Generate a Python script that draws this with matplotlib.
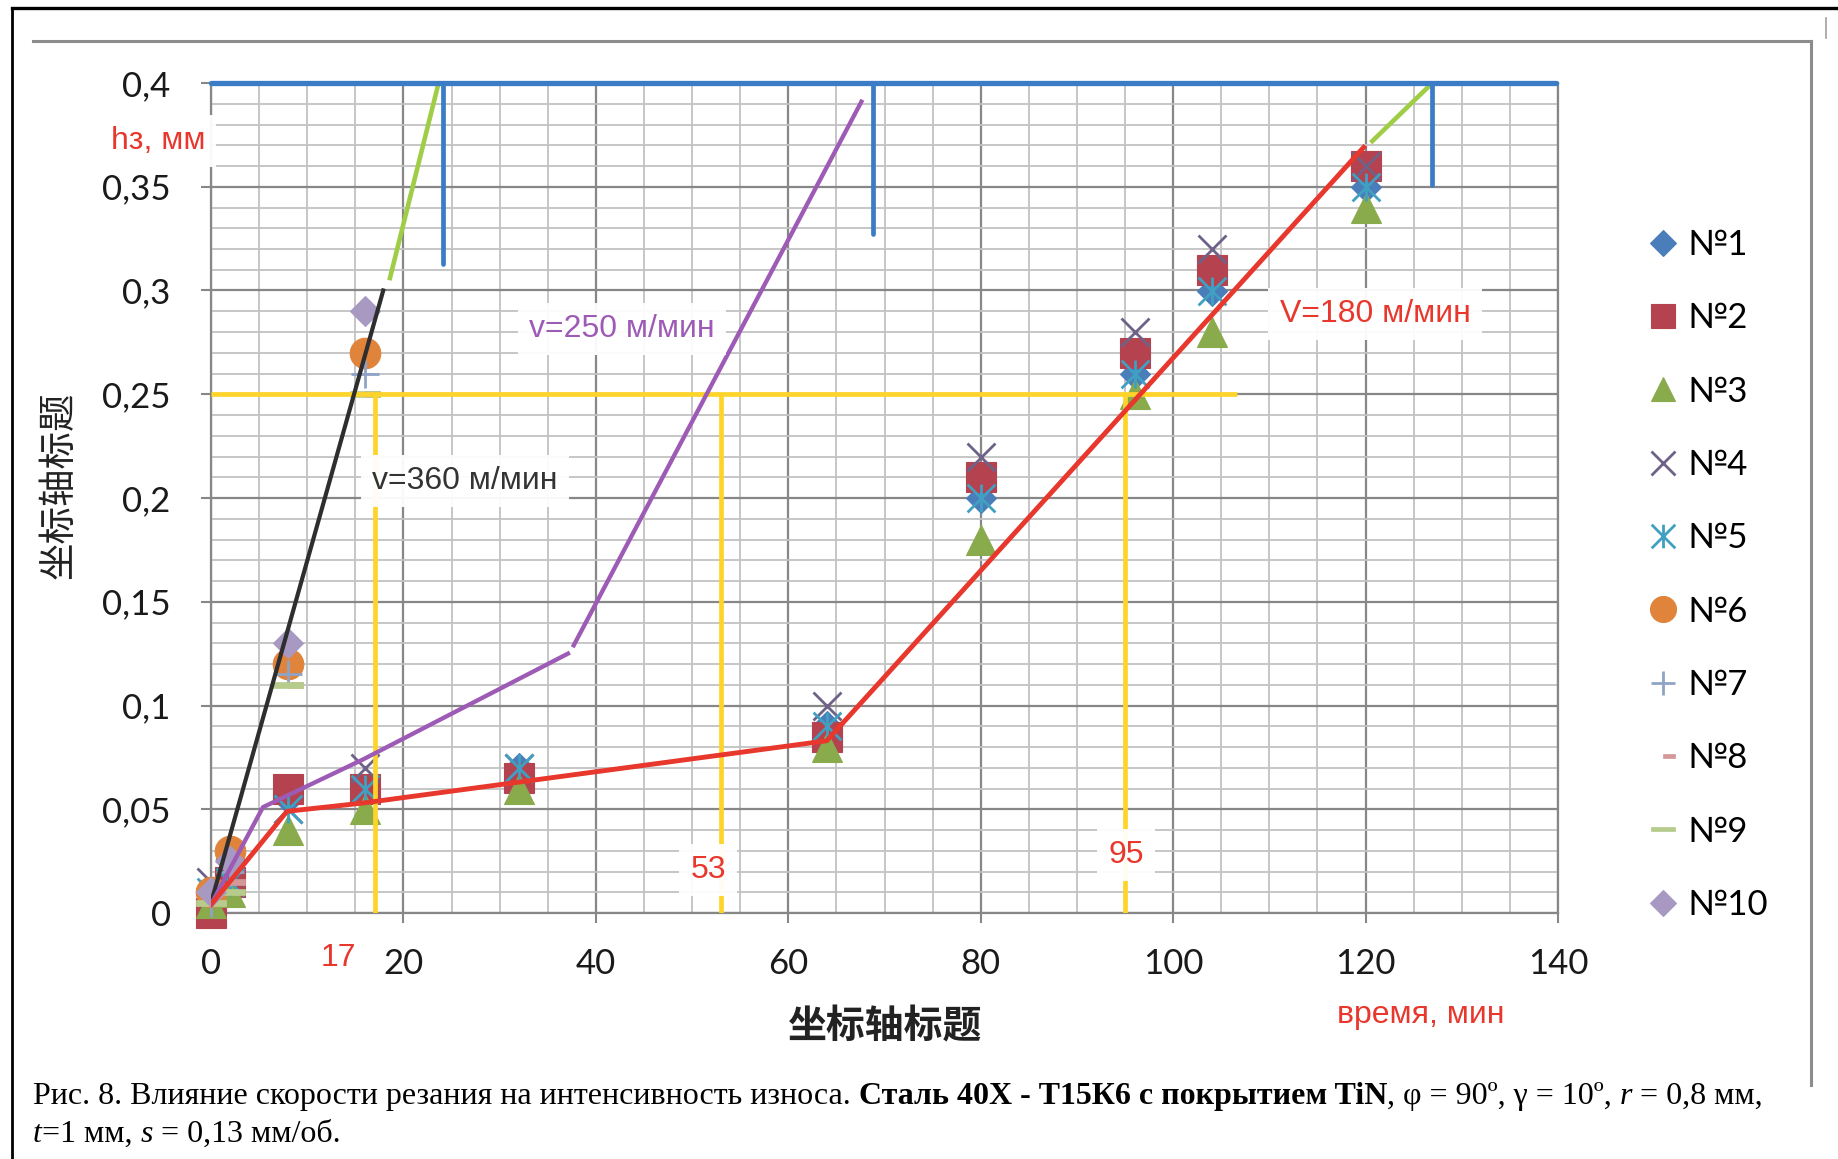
import matplotlib
matplotlib.use("Agg")
import matplotlib.pyplot as plt
from matplotlib.path import Path
from matplotlib.lines import Line2D
from matplotlib.ticker import FuncFormatter, MultipleLocator
import numpy as np

W, H, DPI = 1838, 1159, 100
plt.rcParams['font.family'] = ['Lato', 'DejaVu Sans']

# ---- measured wear (hз, mm) vs. time (min) ----
t_all = [0, 2, 8, 16, 32, 64, 80, 96, 104, 120]
t_short = [0, 2, 8, 16]

s1 = [0.005, 0.015, 0.055, 0.06, 0.07, 0.09, 0.20, 0.26, 0.30, 0.35]
s2 = [0.0, 0.015, 0.06, 0.06, 0.065, 0.085, 0.21, 0.27, 0.31, 0.36]
s3 = [0.005, 0.01, 0.04, 0.05, 0.06, 0.08, 0.18, 0.25, 0.28, 0.34]
s4 = [0.015, 0.02, 0.05, 0.07, 0.07, 0.10, 0.22, 0.28, 0.32, 0.36]
s5 = [0.01, 0.015, 0.05, 0.06, 0.07, 0.09, 0.20, 0.26, 0.30, 0.35]
s6 = [0.01, 0.03, 0.12, 0.27]
s7 = [0.005, 0.02, 0.115, 0.26]
s8 = [0.005, 0.015, 0.11, 0.25]
s9 = [0.005, 0.01, 0.11, 0.25]
s10 = [0.01, 0.025, 0.13, 0.29]

series_names = ["№1", "№2", "№3", "№4", "№5", "№6", "№7", "№8", "№9", "№10"]

# ---- hand-drawn wear curves ----
v360_t = [0.1, 17.9]
v360_h = [0.0065, 0.30]
v360_ext_t = [18.6, 23.6]
v360_ext_h = [0.306, 0.399]

v250_low_t = [0.1, 5.4, 15.8, 37.1]
v250_low_h = [0.005, 0.051, 0.074, 0.125]
v250_up_t = [37.7, 67.6]
v250_up_h = [0.129, 0.391]

v180_t = [0.0, 7.9, 15.8, 64.0, 119.8]
v180_h = [0.004, 0.049, 0.053, 0.083, 0.369]
v180_ext_t = [120.7, 126.6]
v180_ext_h = [0.372, 0.3985]

limit_h = 0.4
limit_t = [0, 139.8]
stop_t = [24.1, 68.8, 126.9]
stop_low = [0.313, 0.327, 0.351]

crit_h = 0.25
crit_t_end = 106.6
crit_t = [17, 53, 95]

# ---- figure ----
fig = plt.figure(figsize=(W / DPI, H / DPI), dpi=DPI)
fig.patch.set_facecolor('white')


def fx(px):
    return px / W


def fy(py):
    return 1 - py / H


# outer frame lines
fig.add_artist(Line2D([fx(12), fx(1838)], [fy(8), fy(8)], color='black', lw=2.4))
fig.add_artist(Line2D([fx(12), fx(12)], [fy(8), fy(1159)], color='black', lw=2.0))
fig.add_artist(Line2D([fx(33), fx(1811)], [fy(41), fy(41)], color='#8c8c8c', lw=2.2))
fig.add_artist(Line2D([fx(1811), fx(1811)], [fy(41), fy(1085)], color='#8c8c8c', lw=2.2))
fig.add_artist(Line2D([fx(1826), fx(1826)], [fy(18), fy(38)], color='#a0a0a0', lw=1.2))

ax = fig.add_axes([fx(211), fy(913), (1558 - 211) / W, (913 - 83) / H])
ax.set_xlim(0, 140)
ax.set_ylim(0, 0.4)
ax.xaxis.set_major_locator(MultipleLocator(20))
ax.xaxis.set_minor_locator(MultipleLocator(5))
ax.yaxis.set_major_locator(MultipleLocator(0.05))
ax.yaxis.set_minor_locator(MultipleLocator(0.01))
ax.grid(which='major', color='#878787', lw=1.6, zorder=0)
ax.grid(which='minor', color='#c2c2c2', lw=1.3, zorder=0)
ax.set_axisbelow(True)
for sp in ax.spines.values():
    sp.set_color('#878787')
    sp.set_linewidth(1.6)

comma = FuncFormatter(lambda v, p: f"{v:g}".replace('.', ','))
ax.xaxis.set_major_formatter(comma)
ax.yaxis.set_major_formatter(comma)
ax.tick_params(which='major', length=7, width=1.5, color='#878787',
               labelsize=25, labelcolor='#1a1a1a')
ax.tick_params(axis='x', which='major', pad=18)
ax.tick_params(axis='y', which='major', pad=22)
ax.tick_params(which='minor', length=0)

# custom marker shapes
star = Path([(0, -0.5), (0, 0.5), (-0.5, -0.5), (0.5, 0.5), (-0.5, 0.5), (0.5, -0.5)],
            [Path.MOVETO, Path.LINETO, Path.MOVETO, Path.LINETO, Path.MOVETO, Path.LINETO])
long_dash = Path([(-0.5, -0.1), (0.5, -0.1), (0.5, 0.1), (-0.5, 0.1), (-0.5, -0.1)],
                 [Path.MOVETO, Path.LINETO, Path.LINETO, Path.LINETO, Path.CLOSEPOLY])
short_dash = Path([(0.0, -0.1), (0.5, -0.1), (0.5, 0.1), (0.0, 0.1), (0.0, -0.1)],
                  [Path.MOVETO, Path.LINETO, Path.LINETO, Path.LINETO, Path.CLOSEPOLY])

styles = [
    dict(marker='D', ms=15, color='#4a7ebb', mew=0.8),
    dict(marker='s', ms=21, color='#b5434f', mew=0.8),
    dict(marker='^', ms=21, color='#8aab4b', mew=0.8),
    dict(marker='x', ms=20, color='#6f6289', mew=2.0),
    dict(marker=star, ms=20, color='#3fa0c2', mew=2.0, mfc='none'),
    dict(marker='o', ms=22, color='#e0843c', mew=0.8),
    dict(marker='+', ms=20, color='#8fa3c6', mew=2.0),
    dict(marker=short_dash, ms=21, color='#d49898', mew=0.5),
    dict(marker=long_dash, ms=21, color='#b7cc8c', mew=0.5),
    dict(marker='D', ms=15, color='#a899c2', mew=0.8),
]
values = [s1, s2, s3, s4, s5, s6, s7, s8, s9, s10]
handles = []
for i, (vals, st) in enumerate(zip(values, styles)):
    tt = t_all if len(vals) == len(t_all) else t_short
    h, = ax.plot(tt, vals, linestyle='none', clip_on=False, zorder=3,
                 label=series_names[i], **st)
    handles.append(h)

# critical wear level and reading lines
yellow = '#ffd42a'
ax.plot([0, crit_t_end], [crit_h, crit_h], color=yellow, lw=3.4, zorder=4, solid_capstyle='butt')
for tc in crit_t:
    ax.plot([tc, tc], [0, crit_h], color=yellow, lw=3.4, zorder=4, solid_capstyle='butt')

# wear curves
ax.plot(v360_t, v360_h, color='#2e2e2e', lw=3.0, zorder=5)
ax.plot(v360_ext_t, v360_ext_h, color='#9fcd45', lw=3.3, zorder=5)
ax.plot(v250_low_t, v250_low_h, color='#9d5bb5', lw=3.1, zorder=5)
ax.plot(v250_up_t, v250_up_h, color='#9d5bb5', lw=3.1, zorder=5)
ax.plot(v180_t, v180_h, color='#e8372c', lw=3.5, zorder=5)
ax.plot(v180_ext_t, v180_ext_h, color='#9fcd45', lw=3.3, zorder=5)

ax.plot(limit_t, [limit_h, limit_h], color='#3a7cc6', lw=3.8, zorder=6, clip_on=False,
        solid_capstyle='round')
for ts, lo in zip(stop_t, stop_low):
    ax.plot([ts, ts], [lo, limit_h], color='#3a7cc6', lw=3.4, zorder=6, clip_on=False,
            solid_capstyle='round')

# annotations
box = dict(boxstyle='square,pad=0.35', facecolor='white', edgecolor='none', alpha=0.95)
lbl = dict(family=['Liberation Sans', 'DejaVu Sans'], fontsize=23, ha='center', va='center',
           zorder=7)
fig.text(fx(158), fy(141), 'hз, мм', color='#e8372c', bbox=box, **lbl)
fig.text(fx(622), fy(329), 'v=250 м/мин', color='#9d5bb5', bbox=box, **lbl)
fig.text(fx(465), fy(481), 'v=360 м/мин', color='#333333', bbox=box, **lbl)
fig.text(fx(1375), fy(314), 'V=180 м/мин', color='#e8372c', bbox=box, **lbl)
fig.text(fx(708), fy(870), '53', color='#e8372c', bbox=box, **lbl)
fig.text(fx(1126), fy(855), '95', color='#e8372c', bbox=box, **lbl)
fig.text(fx(338), fy(958), '17', color='#e8372c', **lbl)
fig.text(fx(1421), fy(1015), 'время, мин', color='#e8372c', **lbl)

fig.text(fx(59), fy(485), '坐标轴标题', rotation=90, ha='center', va='center',
         family=['Noto Sans CJK SC', 'DejaVu Sans'], fontsize=27, color='#222222')
fig.text(fx(885), fy(1027), '坐标轴标题', ha='center', va='center',
         family=['Noto Sans CJK SC', 'DejaVu Sans'], fontsize=28, weight='bold',
         color='#222222')

# legend
fig.legend(handles, series_names, loc='upper left', bbox_to_anchor=(fx(1649), fy(229)),
           frameon=False, fontsize=25, handlelength=0.8, handletextpad=0.3,
           labelspacing=1.19, markerscale=0.85, borderpad=0, borderaxespad=0)

# caption, written run by run to mix regular, bold and italic
renderer = fig.canvas.get_renderer()
cap_size = 23.0
cap_family = ['Liberation Serif', 'DejaVu Serif']


def text_width(s, **kw):
    t = fig.text(0, 0, s, fontsize=cap_size, family=cap_family, **kw)
    w = t.get_window_extent(renderer=renderer).width
    t.remove()
    return w


space_w = text_width('a a') - text_width('aa')


def write_runs(runs, x0, base):
    x = x0
    for s, kw, gap in runs:
        t = fig.text(fx(x), fy(base), s, fontsize=cap_size, family=cap_family,
                     ha='left', va='baseline', color='black', **kw)
        x += t.get_window_extent(renderer=renderer).width + (space_w if gap else 0)


line1 = [
    ('Рис. 8. Влияние скорости резания на интенсивность износа.', {}, True),
    ('Сталь 40Х - Т15К6 с покрытием TiN', dict(weight='bold'), False),
    (', φ = 90º, γ = 10º,', {}, True),
    ('r', dict(style='italic'), True),
    ('= 0,8 мм,', {}, False),
]
line2 = [
    ('t', dict(style='italic'), False),
    ('=1 мм,', {}, True),
    ('s', dict(style='italic'), True),
    ('= 0,13 мм/об.', {}, False),
]
write_runs(line1, 33, 1104)
write_runs(line2, 33, 1142)

fig.savefig('out.png', dpi=DPI)
